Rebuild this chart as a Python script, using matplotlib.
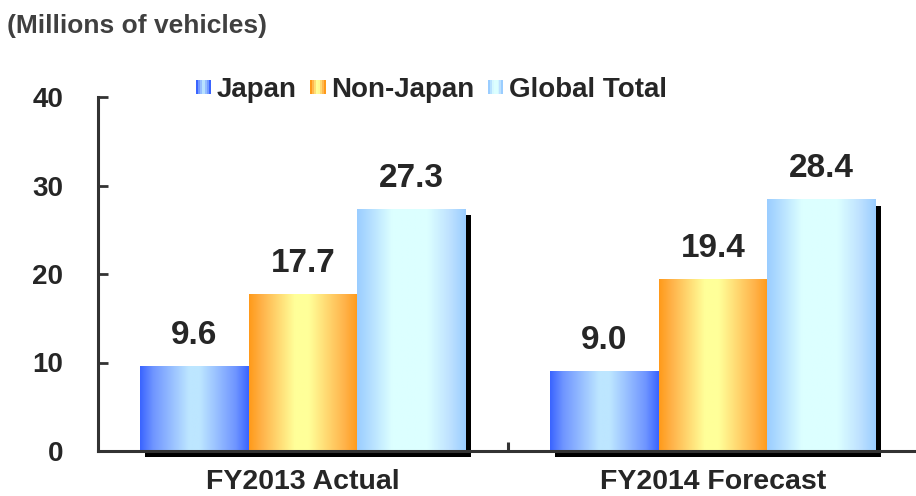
import numpy as np
import matplotlib
matplotlib.use("Agg")
import matplotlib.pyplot as plt
import matplotlib.patheffects as pe
from matplotlib.patches import Rectangle
from matplotlib.legend_handler import HandlerBase
from matplotlib.colors import to_rgb

plt.rcParams['font.family'] = ['Liberation Sans', 'DejaVu Sans']
plt.rcParams['font.weight'] = 'bold'

categories = ["FY2013 Actual", "FY2014 Forecast"]
series_names = ["Japan", "Non-Japan", "Global Total"]
japan = [9.6, 9.0]
non_japan = [17.7, 19.4]
global_total = [27.3, 28.4]
yticks = [0, 10, 20, 30, 40]
unit_label = "(Millions of vehicles)"

# gradient stops (position, colour) for each series
gradients = [
    [(0.0, "#3A64FF"), (0.12, "#6F95FF"), (0.45, "#BDE6FF"), (0.55, "#BDE6FF"), (0.88, "#6F95FF"), (1.0, "#3A64FF")],
    [(0.0, "#FF9A1A"), (0.12, "#FFB34A"), (0.42, "#FFFF99"), (0.55, "#FFFF99"), (0.88, "#FFB34A"), (1.0, "#FF9A1A")],
    [(0.0, "#9ACDFF"), (0.12, "#B3DEFF"), (0.32, "#DCFFFF"), (0.65, "#DCFFFF"), (0.85, "#BFE2FF"), (1.0, "#9ACDFF")],
]

def grad_array(stops, n=200):
    pos = np.array([s[0] for s in stops])
    cols = np.array([to_rgb(s[1]) for s in stops])
    t = np.linspace(0, 1, n)
    rgb = np.stack([np.interp(t, pos, cols[:, c]) for c in range(3)], axis=-1)
    return rgb[np.newaxis, :, :]

fig = plt.figure(figsize=(9.16, 4.96), dpi=100)
ax = fig.add_axes([98 / 916, 45 / 496, 820 / 916, 354 / 496])

text_color = "#262626"
axis_color = "#333333"

x = np.arange(len(categories))
width = 0.265
offsets = [-width, 0, width]
all_values = [japan, non_japan, global_total]

for si, (vals, off) in enumerate(zip(all_values, offsets)):
    bars = ax.bar(x + off, vals, width=width, facecolor="none", edgecolor="none",
                  zorder=2, clip_on=False, label=series_names[si])
    img = grad_array(gradients[si])
    for b in bars:
        b.set_path_effects([pe.SimplePatchShadow(offset=(3.6, -4.3), shadow_rgbFace="black", alpha=1.0)])
        x0, y0 = b.get_x(), b.get_y()
        ax.imshow(img, extent=[x0, x0 + b.get_width(), y0, y0 + b.get_height()],
                  aspect="auto", zorder=2.2, interpolation="bilinear")
        ax.annotate(f"{b.get_height():.1f}", (x0 + b.get_width() / 2, b.get_height()),
                    xytext=(0, 16), textcoords="offset points", ha="center", va="baseline",
                    fontsize=24, fontweight="bold", color=text_color)

ax.set_xlim(-0.5, 1.5)
ax.set_ylim(0, 40)
ax.set_yticks(yticks)
ax.set_yticklabels([str(t) for t in yticks])
ax.set_xticks(x)
ax.set_xticklabels(categories)
ax.set_xticks([0.5], minor=True)

for s in ["top", "right"]:
    ax.spines[s].set_visible(False)
for s in ["left", "bottom"]:
    ax.spines[s].set_linewidth(2.2)
    ax.spines[s].set_color(axis_color)
    ax.spines[s].set_zorder(3)

ax.tick_params(axis="y", direction="in", length=7, width=2, color=axis_color,
               pad=25, labelsize=20, labelcolor=text_color)
ax.tick_params(axis="x", which="major", length=0, pad=13, labelsize=20.5, labelcolor=text_color)
ax.tick_params(axis="x", which="minor", direction="in", length=6.5, width=2.2, color=axis_color)
for lab in ax.get_xticklabels() + ax.get_yticklabels():
    lab.set_fontweight("bold")

class GradientHandler(HandlerBase):
    def __init__(self, stops):
        super().__init__()
        self.stops = stops
    def create_artists(self, legend, orig_handle, xdescent, ydescent, width, height, fontsize, trans):
        arr = grad_array(self.stops, n=8)[0]
        h = 14 * 72 / 100
        w = width
        y0 = -ydescent + (height - h) / 2
        artists = []
        n = len(arr)
        for i, c in enumerate(arr):
            r = Rectangle((-xdescent + i * w / n, y0), w / n + 0.05, h, facecolor=c,
                          edgecolor="none", transform=trans)
            artists.append(r)
        return artists

handles, labels = ax.get_legend_handles_labels()
leg = ax.legend(handles, labels, ncol=3, frameon=False, loc="center left",
                bbox_to_anchor=(196 / 916, 1 - 90 / 496), bbox_transform=fig.transFigure,
                borderaxespad=0, borderpad=0, handlelength=0.54, handletextpad=0.2,
                columnspacing=0.5, prop={"size": 20, "weight": "bold"},
                handler_map={h: GradientHandler(gradients[i]) for i, h in enumerate(handles)})
for t in leg.get_texts():
    t.set_color(text_color)

fig.text(7 / 916, 1 - 26 / 496, unit_label, ha="left", va="center", fontsize=19,
         fontweight="bold", color="#404040")

fig.savefig("out.png", dpi=100)
